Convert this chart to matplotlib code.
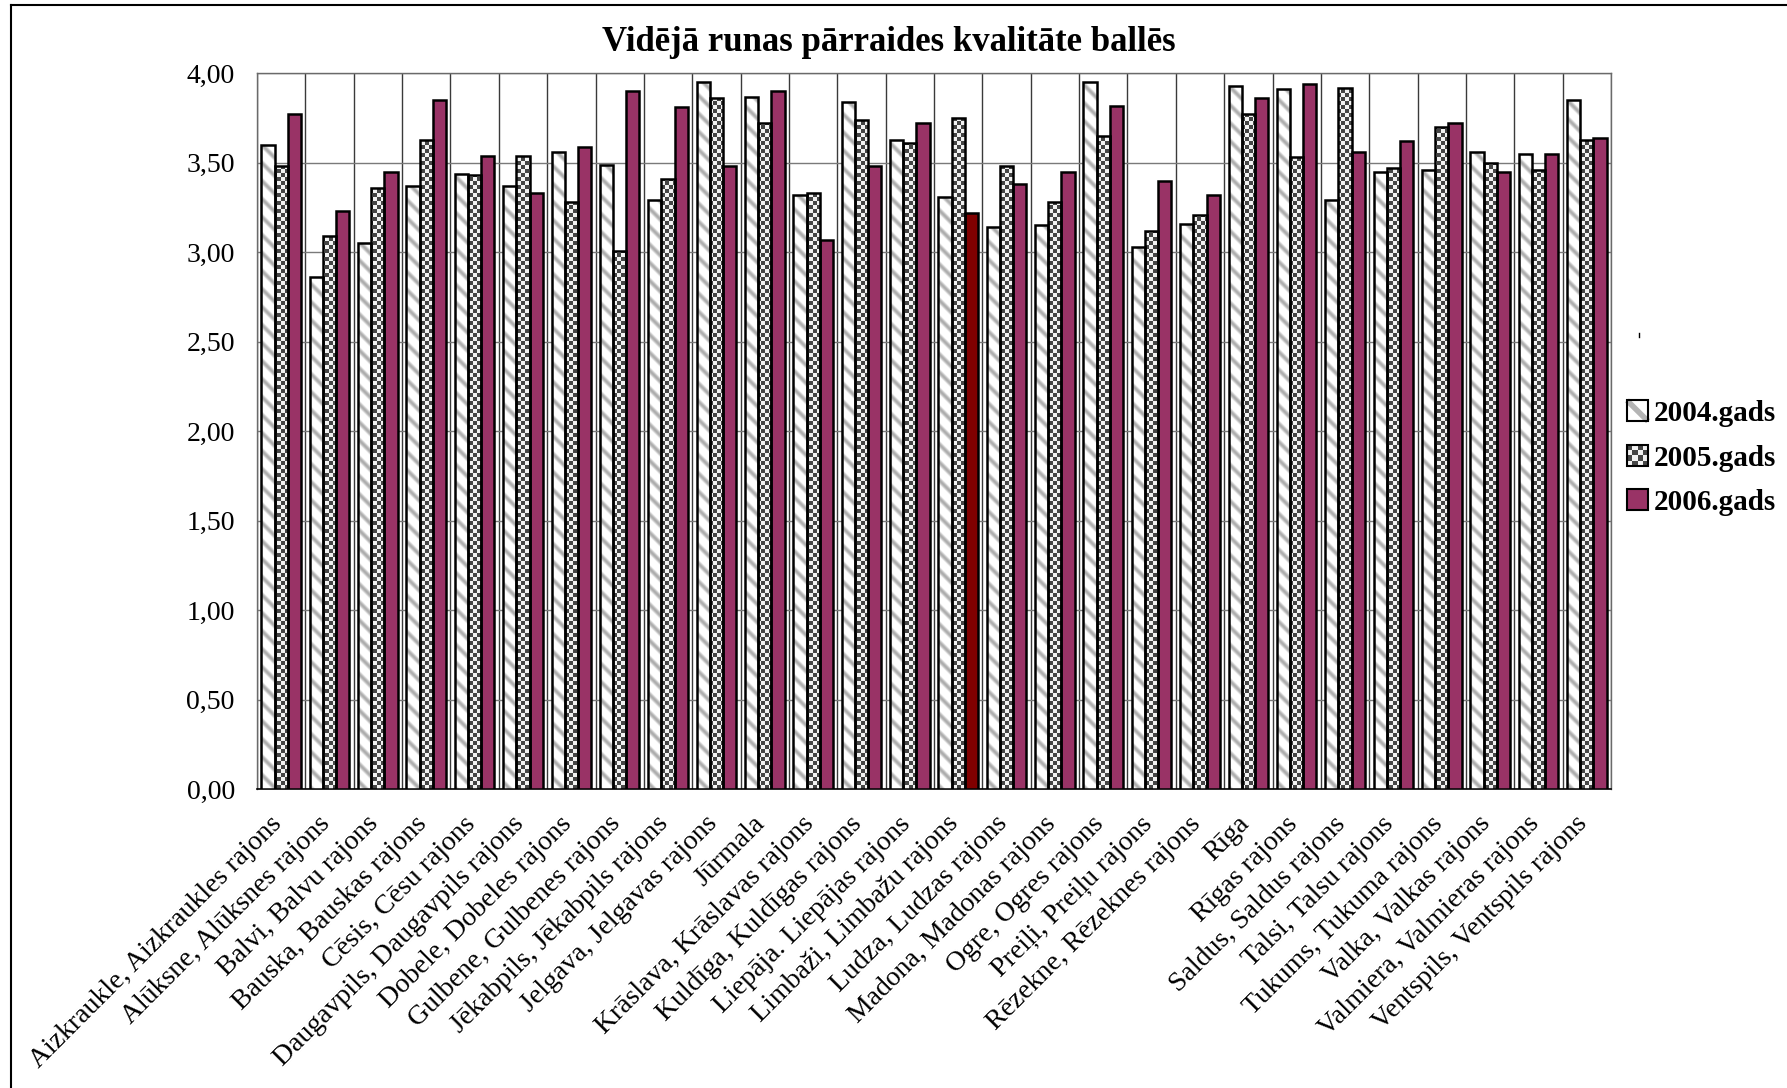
import numpy as np
import matplotlib
matplotlib.use("Agg")
import matplotlib.pyplot as plt
from matplotlib.path import Path
from matplotlib.patches import Rectangle
from matplotlib.lines import Line2D
from matplotlib.legend_handler import HandlerBase
from matplotlib.transforms import ScaledTranslation

# ---- data -------------------------------------------------------------
categories = [
    "Aizkraukle, Aizkraukles rajons", "Alūksne, Alūksnes rajons",
    "Balvi, Balvu rajons", "Bauska, Bauskas rajons", "Cēsis, Cēsu rajons",
    "Daugavpils, Daugavpils rajons", "Dobele, Dobeles rajons",
    "Gulbene, Gulbenes rajons", "Jēkabpils, Jēkabpils rajons",
    "Jelgava, Jelgavas rajons", "Jūrmala", "Krāslava, Krāslavas rajons",
    "Kuldīga, Kuldīgas rajons", "Liepāja. Liepājas rajons",
    "Limbaži, Limbažu rajons", "Ludza, Ludzas rajons",
    "Madona, Madonas rajons", "Ogre, Ogres rajons", "Preiļi, Preiļu rajons",
    "Rēzekne, Rēzeknes rajons", "Rīga", "Rīgas rajons",
    "Saldus, Saldus rajons", "Talsi, Talsu rajons", "Tukums, Tukuma rajons",
    "Valka, Valkas rajons", "Valmiera, Valmieras rajons",
    "Ventspils, Ventspils rajons",
]
series_names = ["2004.gads", "2005.gads", "2006.gads"]
v2004 = [3.60, 2.86, 3.05, 3.37, 3.44, 3.37, 3.56, 3.49, 3.29, 3.95,
         3.87, 3.32, 3.84, 3.63, 3.31, 3.14, 3.15, 3.95, 3.03, 3.16,
         3.93, 3.91, 3.29, 3.45, 3.46, 3.56, 3.55, 3.85]
v2005 = [3.48, 3.09, 3.36, 3.63, 3.43, 3.54, 3.28, 3.01, 3.41, 3.86,
         3.72, 3.33, 3.74, 3.61, 3.75, 3.48, 3.28, 3.65, 3.12, 3.21,
         3.77, 3.53, 3.92, 3.47, 3.70, 3.50, 3.46, 3.63]
v2006 = [3.77, 3.23, 3.45, 3.85, 3.54, 3.33, 3.59, 3.90, 3.81, 3.48,
         3.90, 3.07, 3.48, 3.72, 3.22, 3.38, 3.45, 3.82, 3.40, 3.32,
         3.86, 3.94, 3.56, 3.62, 3.72, 3.45, 3.55, 3.64]
highlight = "Limbaži, Limbažu rajons"
yticks = [0.0, 0.5, 1.0, 1.5, 2.0, 2.5, 3.0, 3.5, 4.0]
ytick_labels = ["0,00", "0,50", "1,00", "1,50", "2,00", "2,50", "3,00", "3,50", "4,00"]
title = "Vidējā runas pārraides kvalitāte ballēs"

# ---- style ------------------------------------------------------------
plt.rcParams["font.family"] = ["Liberation Serif", "DejaVu Serif"]
PLUM = "#993366"
DARK_RED = "#800000"
CHECK_DARK, CHECK_LIGHT = "#454545", "#f2f2f2"
STRIPE_GREY = 0.68

W, H, DPI = 1787, 1088, 100
fig = plt.figure(figsize=(W / DPI, H / DPI), dpi=DPI)
ax_l, ax_r, ax_t, ax_b = 257, 1611, 73.3, 789.3
ax = fig.add_axes([ax_l / W, 1 - ax_b / H, (ax_r - ax_l) / W, (ax_b - ax_t) / H])

n = len(categories)
x = np.arange(n)
bw = 0.273
xlim = (-0.5, n - 0.5)
ylim = (0.0, 4.0)

# base fills (textures are laid over the first two series)
b04 = ax.bar(x - bw, v2004, bw, color="white", edgecolor="none", zorder=2)
b05 = ax.bar(x, v2005, bw, color="white", edgecolor="none", zorder=2)
colors06 = [DARK_RED if c == highlight else PLUM for c in categories]
ax.bar(x + bw, v2006, bw, color=colors06, edgecolor="black", linewidth=1.8, zorder=4)


def bars_path(bars):
    return Path.make_compound_path(
        *[b.get_path().transformed(b.get_patch_transform()) for b in bars])


# texture rasters at roughly one cell per screen pixel
wpx, hpx = int(ax_r - ax_l), int(ax_b - ax_t)
ii, jj = np.indices((hpx, wpx))

period = 18.0
phase = ((ii + jj) % period) / period
stripe = np.clip(np.cos(2 * np.pi * phase), 0, 1) ** 1.3
grey = 1.0 - (1.0 - STRIPE_GREY) * stripe
stripe_rgb = np.dstack([grey, grey, grey])

cell = 4
chk = ((ii // cell) + (jj // cell)) % 2
dark = np.array(matplotlib.colors.to_rgb(CHECK_DARK))
light = np.array(matplotlib.colors.to_rgb(CHECK_LIGHT))
check_rgb = np.where(chk[..., None] == 1, dark, light)

for tex, bars in ((stripe_rgb, b04), (check_rgb, b05)):
    im = ax.imshow(tex, extent=(*xlim, *ylim), origin="lower", aspect="auto",
                   interpolation="nearest", zorder=3)
    im.set_clip_path(bars_path(bars), ax.transData)

# outlines
ax.bar(x - bw, v2004, bw, fill=False, edgecolor="black", linewidth=1.8, zorder=4)
ax.bar(x, v2005, bw, fill=False, edgecolor="black", linewidth=1.8, zorder=4)

ax.set_xlim(*xlim)
ax.set_ylim(*ylim)

# grid and axes
ax.set_yticks(yticks)
ax.set_yticklabels(ytick_labels, fontsize=20)
ax.set_xticks(x)
ax.set_xticklabels(categories, fontsize=20, rotation=45, ha="right", va="top",
                   rotation_mode="anchor")
ax.set_xticks(np.arange(n + 1) - 0.5, minor=True)
ax.tick_params(axis="both", which="both", length=0)
ax.tick_params(axis="y", pad=16)
ax.tick_params(axis="x", pad=0)
ax.set_axisbelow(True)
ax.yaxis.grid(True, color="#7a7a7a", linewidth=1.0)
ax.xaxis.grid(True, which="minor", color="#3a3a3a", linewidth=1.0)
ax.xaxis.grid(False, which="major")
for side in ("top", "right", "left"):
    ax.spines[side].set_color("#6a6a6a")
    ax.spines[side].set_linewidth(1.0)
ax.spines["bottom"].set_color("black")
ax.spines["bottom"].set_linewidth(1.2)

shift = ScaledTranslation(-12 / DPI, -22 / DPI, fig.dpi_scale_trans)
for lbl in ax.get_xticklabels():
    lbl.set_transform(lbl.get_transform() + shift)

fig.text(889 / W, 1 - 51 / H, title, ha="center", va="baseline",
         fontsize=25, fontweight="bold")


# legend swatches
class SwatchHandler(HandlerBase):
    def __init__(self, kind):
        super().__init__()
        self.kind = kind

    def create_artists(self, legend, orig_handle, xdescent, ydescent,
                       width, height, fontsize, trans):
        x0, y0 = -xdescent, -ydescent
        arts = []
        if self.kind == "stripe":
            bg = Rectangle((x0, y0), width, height, fc="white", ec="none", transform=trans)
            ln = Line2D([x0, x0 + width], [y0 + height, y0], color="#b4b4b4",
                        lw=4, transform=trans, solid_capstyle="butt")
            arts += [bg, ln]
        elif self.kind == "checker":
            k = 4
            for r in range(k):
                for c in range(k):
                    fc = CHECK_DARK if (r + c) % 2 else CHECK_LIGHT
                    arts.append(Rectangle((x0 + c * width / k, y0 + r * height / k),
                                          width / k, height / k, fc=fc, ec="none",
                                          transform=trans))
        else:
            arts.append(Rectangle((x0, y0), width, height, fc=PLUM, ec="none", transform=trans))
        arts.append(Rectangle((x0, y0), width, height, fc="none", ec="black",
                              lw=1.5, transform=trans))
        return arts


handles = [Rectangle((0, 0), 1, 1) for _ in series_names]
kinds = ["stripe", "checker", "solid"]
fig.legend(handles, series_names,
           handler_map={h: SwatchHandler(k) for h, k in zip(handles, kinds)},
           loc="center left", bbox_to_anchor=(1627 / W, 1 - 458 / H),
           frameon=False, borderpad=0, borderaxespad=0,
           prop={"size": 21, "weight": "bold"},
           handlelength=0.72, handleheight=0.72, handletextpad=0.2,
           labelspacing=0.6)

# outer frame and stray mark
fig.add_artist(Line2D([11 / W, 11 / W], [0, 1 - 5 / H], color="black", lw=1.5,
                      transform=fig.transFigure))
fig.add_artist(Line2D([11 / W, 1], [1 - 5 / H, 1 - 5 / H], color="black", lw=1.5,
                      transform=fig.transFigure))
fig.add_artist(Line2D([1639 / W, 1639 / W], [1 - 333 / H, 1 - 337 / H], color="black",
                      lw=1.0, transform=fig.transFigure))

fig.savefig("out.png", dpi=DPI, facecolor="white")
